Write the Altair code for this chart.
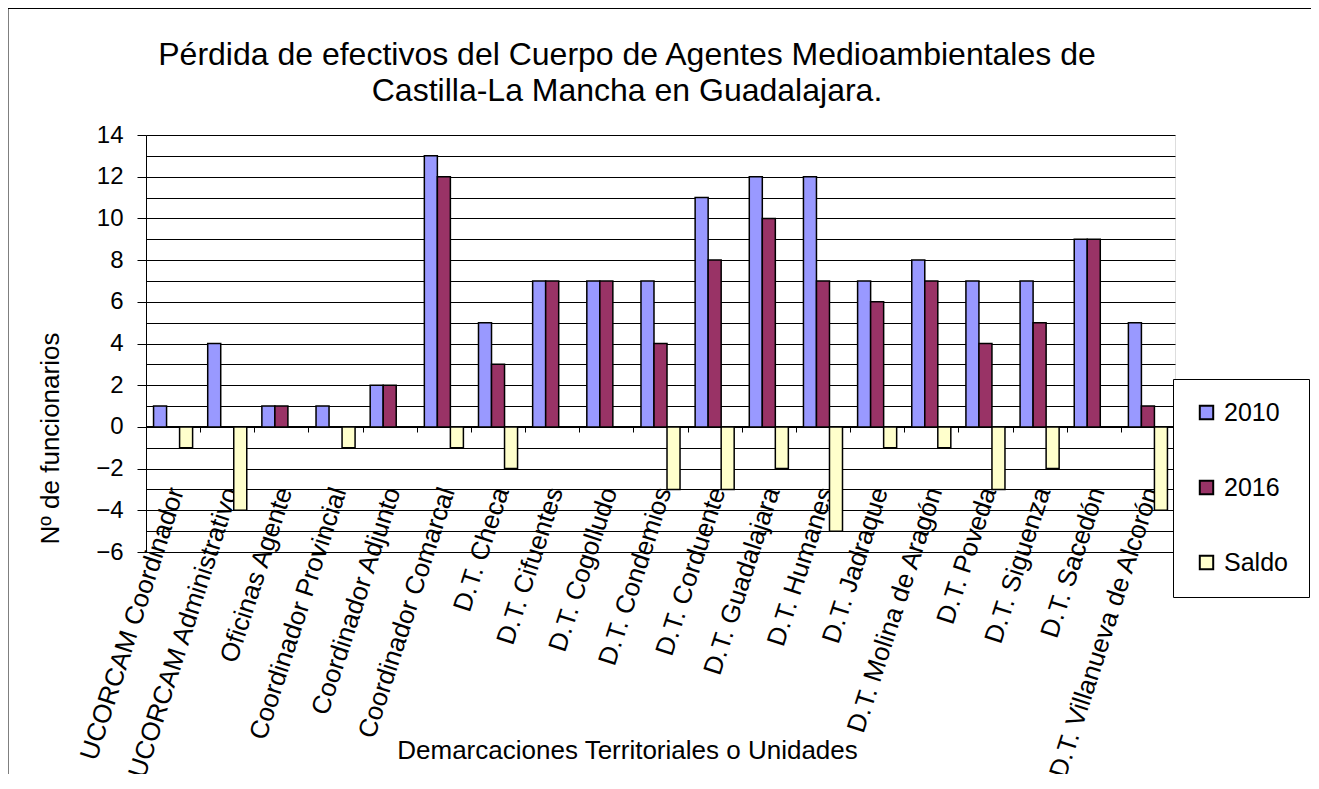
import altair as alt
import pandas as pd

CATEGORIES = [
    "UCORCAM Coordinador", "UCORCAM Administrativo", "Oficinas Agente",
    "Coordinador Provincial", "Coordinador  Adjunto", "Coordinador Comarcal",
    "D.T. Checa", "D.T. Cifuentes", "D.T. Cogolludo", "D.T. Condemios",
    "D.T. Corduente", "D.T. Guadalajara", "D.T. Humanes", "D.T. Jadraque",
    "D.T. Molina de Aragón", "D.T. Poveda", "D.T. Siguenza", "D.T. Sacedón",
    "D.T. Villanueva de Alcorón",
]
V2010 = [1, 4, 1, 1, 2, 13, 5, 7, 7, 7, 11, 12, 12, 7, 8, 7, 7, 9, 5]
V2016 = [0, 0, 1, 0, 2, 12, 3, 7, 7, 4, 8, 10, 7, 6, 7, 4, 5, 9, 1]
SALDO = [-1, -4, 0, -1, 0, -1, -2, 0, 0, -3, -3, -2, -5, -1, -1, -3, -2, 0, -4]
SERIES = ["2010", "2016", "Saldo"]
COLORS = ["#9999FF", "#993366", "#FFFFCC"]
TITLE_LINES = [
    "Pérdida de efectivos del Cuerpo de Agentes Medioambientales de",
    "Castilla-La Mancha en Guadalajara.",
]
Y_LABEL = "Nº de funcionarios"
X_LABEL = "Demarcaciones Territoriales o Unidades"
GRID_VALUES = list(range(-6, 15))

rows = []
for i, c in enumerate(CATEGORIES):
    for s, vals in zip(SERIES, [V2010, V2016, SALDO]):
        rows.append({"cat": c, "serie": s, "valor": vals[i]})
df = pd.DataFrame(rows)

FONT = "Liberation Sans"
W, H = 1029, 417

bars = alt.Chart(df).mark_bar(stroke="black", strokeWidth=1.5).encode(
    x=alt.X(
        "cat:N", sort=CATEGORIES,
        scale=alt.Scale(paddingInner=0, paddingOuter=0),
        axis=alt.Axis(
            title=X_LABEL, titleFont=FONT, titleFontSize=26, titleFontWeight="normal",
            titleColor="black", titleX=481, titleY=324, titleAlign="center",
            titleBaseline="middle", titleAngle=0,
            labelAngle=-72, labelAlign="right", labelBaseline="middle",
            labelFont=FONT, labelFontSize=26, labelColor="black",
            labelPadding=56, labelLimit=0, labelOverlap=False, labelOffset=3,
            tickBand="extent", tickSize=6, tickColor="black", tickWidth=1,
            domainColor="black", domainWidth=1, offset=-126, grid=False,
        ),
    ),
    xOffset=alt.XOffset("serie:N", sort=SERIES,
                        scale=alt.Scale(paddingInner=0, paddingOuter=0.58)),
    y=alt.Y(
        "valor:Q",
        scale=alt.Scale(domain=[-6, 14], nice=False, zero=False),
        axis=alt.Axis(
            values=GRID_VALUES,
            labelExpr="datum.value % 2 == 0 ? datum.label : ''",
            tickColor={"condition": {"test": "datum.value % 2 != 0", "value": "transparent"},
                       "value": "black"},
            tickSize=9, grid=True, gridColor="black", gridWidth=1,
            domainColor="black", domainWidth=1,
            labelFont=FONT, labelFontSize=24, labelColor="black", labelPadding=14,
            title=Y_LABEL, titleFont=FONT, titleFontSize=26, titleFontWeight="normal",
            titleColor="black", titleX=-96, titleY=303, titleAngle=-90,
            titleAlign="center", titleBaseline="middle",
        ),
    ),
    color=alt.Color(
        "serie:N", sort=SERIES,
        scale=alt.Scale(domain=SERIES, range=COLORS),
        legend=alt.Legend(
            orient="none", legendX=1027, legendY=244, title=None,
            padding=21, strokeColor="black", fillColor="white",
            rowPadding=49, symbolType="square", symbolSize=180,
            symbolStrokeColor="black", symbolStrokeWidth=2, symbolOpacity=1,
            labelFont=FONT, labelFontSize=25, labelColor="black", labelOffset=5,
        ),
    ),
)

border = alt.Chart(alt.Data(values=[{}])).mark_rect(
    fill="transparent", stroke="black", strokeWidth=1
).encode(
    x=alt.value(-138), x2=alt.value(1166), y=alt.value(-126.5), y2=alt.value(700)
)

title = alt.Chart(alt.Data(values=[{"t": TITLE_LINES}])).mark_text(
    font=FONT, fontSize=32, color="black", align="center", baseline="alphabetic",
    lineHeight=36,
).encode(
    text="t:N", x=alt.value(481), y=alt.value(-70)
)

chart = alt.layer(bars, border, title).properties(
    width=W, height=H,
    autosize=alt.AutoSizeParams(type="none"),
    padding={"left": 138, "top": 127, "right": 136, "bottom": 222},
).configure_view(
    fill="#C0C0C0", stroke="#808080", strokeWidth=1
).configure(background="white")

chart.save("out.html", embed_options={"renderer": "svg", "actions": False})
